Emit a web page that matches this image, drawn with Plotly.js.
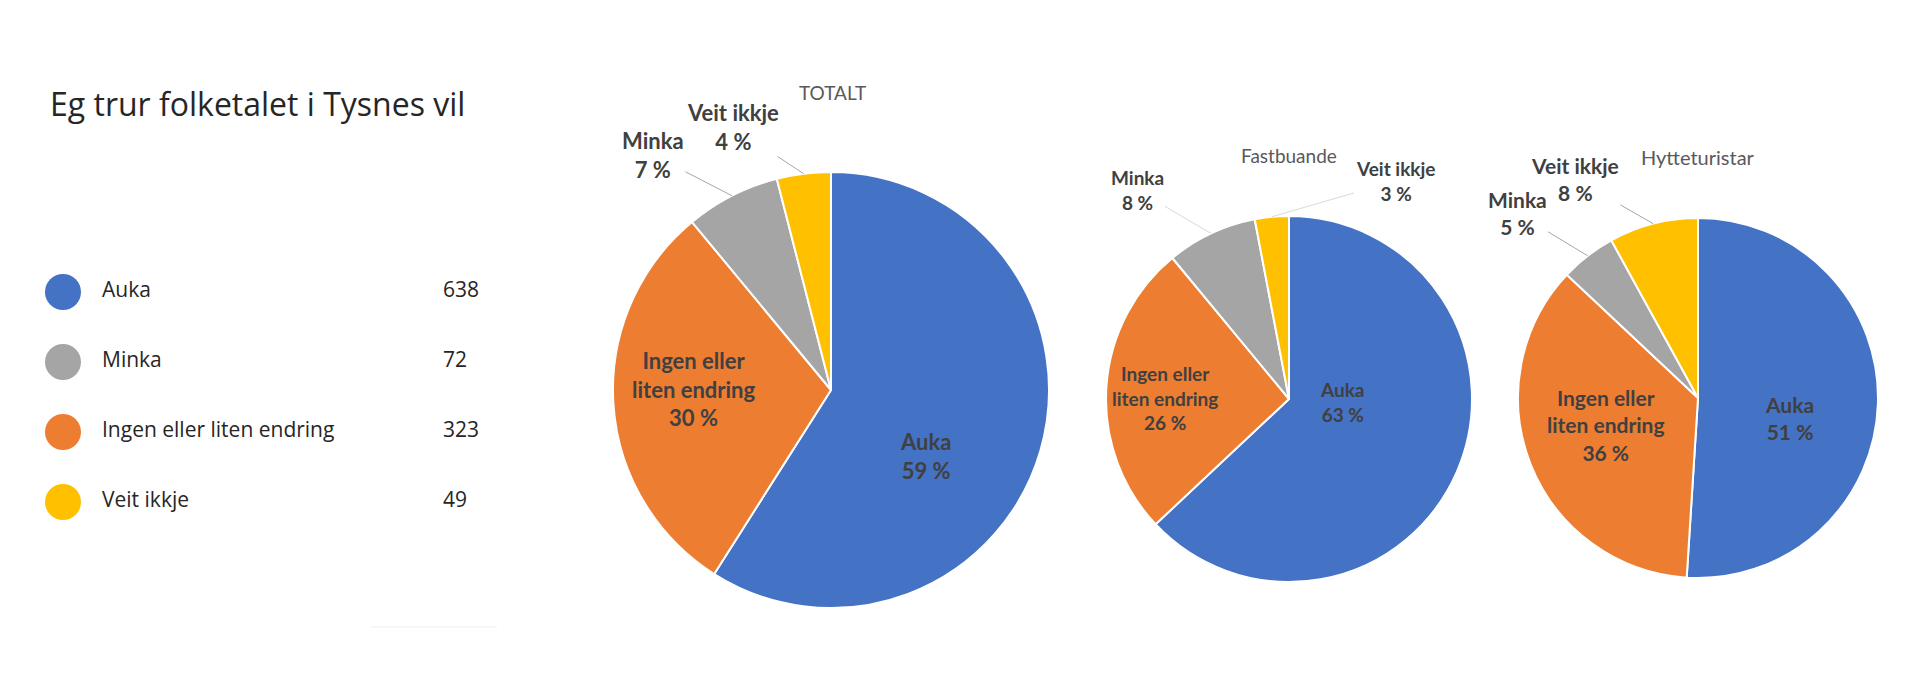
<!DOCTYPE html>
<html>
<head>
<meta charset="utf-8">
<script src="https://cdn.plot.ly/plotly-3.0.1.min.js"></script>
<style>
  html, body { margin: 0; padding: 0; background: #fff; }
  #chart { width: 1920px; height: 675px; }
</style>
</head>
<body>
<div id="chart"></div>
<script>
// "Eg trur folketalet i Tysnes vil ..." - answers per group
const categories = ['Auka', 'Ingen eller liten endring', 'Minka', 'Veit ikkje'];

// left legend with the answer counts
const legendNames = ['Auka', 'Minka', 'Ingen eller liten endring', 'Veit ikkje'];
const legendCounts = [638, 72, 323, 49];

// pie groups, shares in percent (same order as categories)
const groups = ['TOTALT', 'Fastbuande', 'Hytteturistar'];
const totaltPct = [59, 30, 7, 4];
const fastbuandePct = [63, 26, 8, 3];
const hyttePct = [51, 36, 5, 8];

const COLORS = {
    'Auka': '#4472C4',
    'Ingen eller liten endring': '#ED7D31',
    'Minka': '#A5A5A5',
    'Veit ikkje': '#FFC000',
};

const W = 1920, H = 675;
const LABEL_FONT = 'Lato, "Open Sans", sans-serif';
const TEXT_FONT = '"Open Sans", "Noto Sans", sans-serif';

// where each pie sits (pixels) and where its slice labels go;
// labels in `outside` get a leader line to the slice rim
const PIE_LAYOUT = [
    { cx: 831, cy: 390, r: 218, font: 22, titleX: 832, titleY: 92, titleSize: 19, lead: '#A6A6A6',
      inside: { 'Auka': [925, 456], 'Ingen eller liten endring': [693, 389] },
      outside: { 'Minka': [653, 155], 'Veit ikkje': [733, 127] } },
    { cx: 1289, cy: 399, r: 183, font: 19, titleX: 1289, titleY: 155, titleSize: 19, lead: '#D9D9D9',
      inside: { 'Auka': [1342, 402], 'Ingen eller liten endring': [1165, 398] },
      outside: { 'Minka': [1137, 190], 'Veit ikkje': [1395, 181] } },
    { cx: 1698, cy: 398, r: 180, font: 21, titleX: 1698, titleY: 157, titleSize: 20, lead: '#A6A6A6',
      inside: { 'Auka': [1789, 418], 'Ingen eller liten endring': [1606, 425] },
      outside: { 'Minka': [1517, 213], 'Veit ikkje': [1575, 179] } },
];
const pieValues = [totaltPct, fastbuandePct, hyttePct];

function domainFor(p) {
    return {
        x: [(p.cx - p.r) / W, (p.cx + p.r) / W],
        y: [1 - (p.cy + p.r) / H, 1 - (p.cy - p.r) / H],
    };
}

// point on the rim in the middle of slice idx (clockwise from 12 o'clock)
function sliceEdge(values, idx, p) {
    const total = values.reduce((a, b) => a + b, 0);
    const before = values.slice(0, idx).reduce((a, b) => a + b, 0);
    const theta = 2 * Math.PI * (before + values[idx] / 2) / total;
    return [p.cx + p.r * Math.sin(theta), p.cy - p.r * Math.cos(theta)];
}

const wrap = name => name.replace('eller ', 'eller<br>');

const traces = [];
const annotations = [];

pieValues.forEach((values, i) => {
    const p = PIE_LAYOUT[i];
    const labelFont = { family: LABEL_FONT, size: p.font, color: '#404040', weight: 700 };

    traces.push({
        type: 'pie',
        labels: categories,
        values: values,
        sort: false,
        direction: 'clockwise',
        rotation: 0,
        domain: domainFor(p),
        marker: { colors: categories.map(c => COLORS[c]), line: { color: '#FFFFFF', width: 2 } },
        textinfo: 'none',
        hoverinfo: 'label+value',
        showlegend: false,
    });

    // group title
    annotations.push({
        text: groups[i],
        xref: 'paper', yref: 'paper',
        x: p.titleX / W, y: 1 - p.titleY / H,
        xanchor: 'center', yanchor: 'middle',
        showarrow: false,
        font: { family: LABEL_FONT, size: p.titleSize, color: '#595959' },
    });

    categories.forEach((c, idx) => {
        const text = wrap(c) + '<br>' + values[idx] + ' %';
        if (p.inside[c]) {
            const [lx, ly] = p.inside[c];
            annotations.push({
                text: text,
                xref: 'paper', yref: 'paper',
                x: lx / W, y: 1 - ly / H,
                xanchor: 'center', yanchor: 'middle',
                showarrow: false,
                font: labelFont,
            });
        } else if (p.outside[c]) {
            const [ex, ey] = sliceEdge(values, idx, p);
            const [lx, ly] = p.outside[c];
            annotations.push({
                text: text,
                xref: 'paper', yref: 'paper',
                x: ex / W, y: 1 - ey / H,
                ax: lx - ex, ay: ly - ey,
                xanchor: 'center', yanchor: 'middle',
                showarrow: true,
                arrowhead: 0,
                arrowwidth: 1,
                arrowcolor: p.lead,
                standoff: 0,
                font: labelFont,
            });
        }
    });
});

// legend drawn on a hidden axis: one row per answer
const rowIndex = legendNames.map((_, i) => i);
traces.push({
    type: 'scatter', mode: 'markers',
    x: legendNames.map(() => 63), y: rowIndex,
    marker: { size: 36, color: legendNames.map(c => COLORS[c]) },
    hoverinfo: 'skip', showlegend: false,
});
traces.push({
    type: 'scatter', mode: 'text',
    x: legendNames.map(() => 102), y: rowIndex,
    text: legendNames, textposition: 'middle right',
    marker: { size: 1 },
    textfont: { family: TEXT_FONT, size: 21, color: '#262626' },
    hoverinfo: 'skip', showlegend: false,
});
traces.push({
    type: 'scatter', mode: 'text',
    x: legendNames.map(() => 443), y: rowIndex,
    text: legendCounts.map(String), textposition: 'middle right',
    marker: { size: 1 },
    textfont: { family: TEXT_FONT, size: 21, color: '#262626' },
    hoverinfo: 'skip', showlegend: false,
});

annotations.push({
    text: 'Eg trur folketalet i Tysnes vil',
    xref: 'paper', yref: 'paper',
    x: 48 / W, y: 1 - 104 / H,
    xanchor: 'left', yanchor: 'middle',
    showarrow: false,
    font: { family: TEXT_FONT, size: 32, color: '#262626' },
});

// rows at 292px + 70px each, axis in pixel units
const rowTop = 292, rowStep = 70;
const layout = {
    width: W, height: H,
    paper_bgcolor: '#FFFFFF',
    plot_bgcolor: 'rgba(0,0,0,0)',
    margin: { l: 0, r: 0, t: 0, b: 0 },
    showlegend: false,
    xaxis: { domain: [0, 0.25], range: [0, 480], visible: false, fixedrange: true },
    yaxis: { domain: [0, 1], range: [(H - rowTop) / rowStep, -rowTop / rowStep], visible: false, fixedrange: true },
    annotations: annotations,
    shapes: [{
        type: 'line', xref: 'paper', yref: 'paper',
        x0: 371 / W, x1: 497 / W, y0: 1 - 627 / H, y1: 1 - 627 / H,
        line: { color: '#EEEEEE', width: 1 },
    }],
};

Plotly.newPlot('chart', traces, layout, { displayModeBar: false, staticPlot: true });
</script>
</body>
</html>
